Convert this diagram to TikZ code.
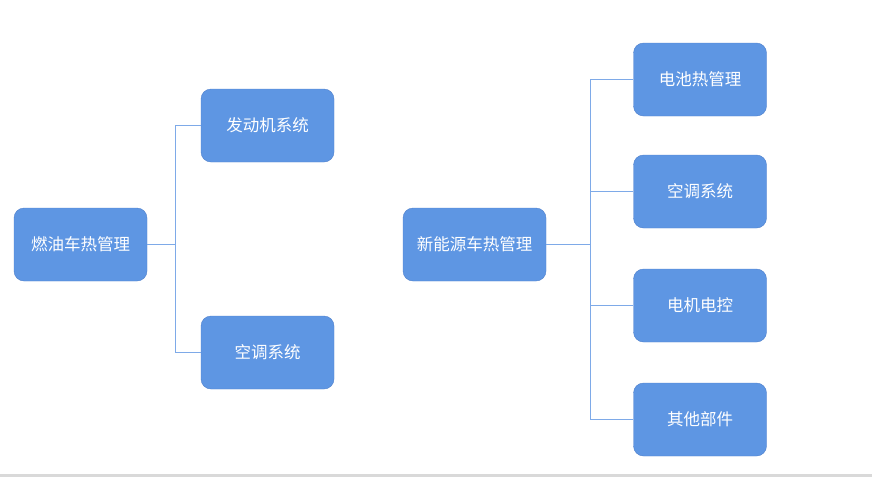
\documentclass[tikz,border=0pt]{standalone}
\usepackage{fontspec}
\setmainfont{Noto Sans CJK SC}
\usepackage{xcolor}
\definecolor{boxfill}{HTML}{5E96E3}
\definecolor{boxline}{HTML}{4F80CC}
\definecolor{linkline}{HTML}{7EAAE8}
\definecolor{barcol}{HTML}{D9D9D9}

\tikzset{
  sysbox/.style={draw=boxline, fill=boxfill, rounded corners=10pt, text=white,
    minimum width=133pt, minimum height=73pt, inner sep=0pt, font=\fontsize{16.5}{18}\selectfont},
  link/.style={draw=linkline, line width=0.8pt}
}

\begin{document}
\begin{tikzpicture}[x=1pt,y=-1pt]
\useasboundingbox (0,0) rectangle (872,477);
\fill[barcol] (0,474) rectangle (872,477);

% left tree
  \node[sysbox] (fuel) at (80.5,244.5) {燃油车热管理};
  \node[sysbox] (engine) at (267.5,125.5) {发动机系统};
  \node[sysbox] (aircon1) at (267.5,352.5) {空调系统};
  \coordinate (lj) at (175,244.5);
  \draw[link] (fuel.east) -- (lj);
  \draw[link] (lj) |- (engine.west);
  \draw[link] (lj) |- (aircon1.west);

% right tree
  \node[sysbox, minimum width=143pt] (nev) at (474.5,244.5) {新能源车热管理};
  \node[sysbox] (battery) at (700,79.5) {电池热管理};
  \node[sysbox] (aircon2) at (700,191.5) {空调系统};
  \node[sysbox] (motor) at (700,305.5) {电机电控};
  \node[sysbox] (other) at (700,419.5) {其他部件};
  \coordinate (rj) at (590,244.5);
  \draw[link] (nev.east) -- (rj);
  \draw[link] (rj) |- (battery.west);
  \draw[link] (rj) |- (aircon2.west);
  \draw[link] (rj) |- (motor.west);
  \draw[link] (rj) |- (other.west);

\end{tikzpicture}
\end{document}
